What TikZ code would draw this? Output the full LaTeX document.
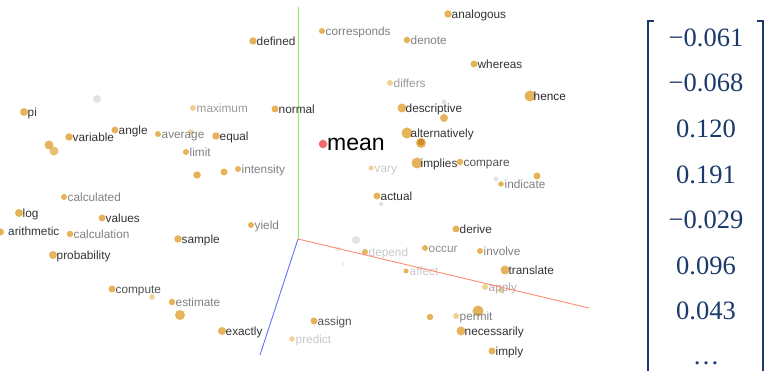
\documentclass[tikz,border=0pt]{standalone}
\usepackage{fontspec}
\setmainfont{Liberation Sans}
\newfontfamily\serifnum{Liberation Serif}
\definecolor{dotA}{HTML}{E6B35A}
\definecolor{dotL}{HTML}{EFD195}
\definecolor{dotD}{HTML}{D08C2A}
\definecolor{dotG}{HTML}{E3E3E3}
\definecolor{dotR}{HTML}{F26B6B}
\definecolor{tD}{HTML}{333333}
\definecolor{tM}{HTML}{808080}
\definecolor{tL}{HTML}{C8C8C8}
\definecolor{navy}{HTML}{1B3A6B}
\definecolor{axG}{HTML}{86F060}
\definecolor{axR}{HTML}{FF8C72}
\definecolor{axB}{HTML}{6870FF}
\tikzset{
  wdot/.style={circle,inner sep=0pt,draw=none},
  lbl/.style={anchor=base west,inner sep=0pt,font=\fontsize{11.8}{13}\selectfont},
  num/.style={text=navy,font=\serifnum\fontsize{26.5}{30}\selectfont,inner sep=0pt},
  axis/.style={line width=0.9pt}
}
\newcommand\wordpt[7]{%
  \node[wdot,minimum size=#4,fill=#5] (d#1) at (#2,#3) {};
  \node[lbl,text=#6] (t#1) at (#2+3.5,#3+4.5) {#7};}
\newcommand\plaindot[5]{%
  \node[wdot,minimum size=#4,fill=#5] (#1) at (#2,#3) {};}
\begin{document}
\begin{tikzpicture}[x=1pt,y=-1pt]
\useasboundingbox (0,0) rectangle (764,371);
% unlabeled dots
\plaindot{u1}{97}{99}{8}{dotG}
\plaindot{u2}{191}{132}{5.5}{dotL}
\plaindot{u3}{49}{145}{9}{dotA}
\node[wdot,minimum size=9,fill=dotA,fill opacity=0.85] (u4) at (54,151) {};
\plaindot{u5}{197}{175}{7.5}{dotA}
\plaindot{u6}{224}{172}{7}{dotA}
\plaindot{u7}{152}{297}{5.5}{dotL}
\plaindot{u8}{180}{315}{10}{dotA}
\plaindot{u9}{444}{102}{5}{dotG}
\plaindot{u10}{444}{118}{8}{dotA}
\node[wdot,minimum size=10,fill=dotA] (u11) at (421,143) {};
\node[wdot,minimum size=7,fill=dotD] (u11b) at (421,142) {};
\plaindot{u12}{496}{179}{5}{dotG}
\plaindot{u13}{537}{176}{7}{dotA}
\plaindot{u14}{381}{204}{4.5}{dotG}
\plaindot{u15}{356}{240}{8}{dotG}
\plaindot{u16}{338}{249}{5}{dotG!60}
\plaindot{u17}{343}{264}{4}{dotG!60}
\plaindot{u18}{501}{290}{6}{dotL}
\plaindot{u19}{478}{311}{11}{dotA}
\plaindot{u20}{430}{317}{6.5}{dotA}
\plaindot{u21}{0.5}{232}{7}{dotA}
% axes
\coordinate (O) at (298,239);
\coordinate (gY) at (298,7);
\coordinate (rX) at (589,308);
\coordinate (bZ) at (260,355);
\draw[axis,axG] (O) -- (gY);
\draw[axis,axB] (O) -- (bZ);
% labeled words
\wordpt{analogous}{448}{14}{7.5}{dotA}{tD}{analogous}
\wordpt{corresponds}{322}{31}{6}{dotA}{tM}{corresponds}
\wordpt{denote}{407}{40}{6.5}{dotA}{tM}{denote}
\wordpt{defined}{253}{41}{7.5}{dotA}{tD}{defined}
\wordpt{whereas}{474}{64}{7}{dotA}{tD}{whereas}
\wordpt{differs}{390}{83}{6}{dotL}{tM!80}{differs}
\wordpt{hence}{530}{96}{11}{dotA}{black!85}{hence}
\wordpt{descriptive}{402}{108}{9}{dotA}{tD}{descriptive}
\wordpt{alternatively}{407}{133}{11}{dotA}{tD}{alternatively}
\wordpt{implies}{417}{163}{11}{dotA}{tD}{implies}
\wordpt{compare}{460}{162}{6.5}{dotA}{tD!85}{compare}
\wordpt{vary}{371}{168}{5}{dotL}{tL}{vary}
\wordpt{indicate}{501}{184}{5.5}{dotA}{tM}{indicate}
\wordpt{actual}{377}{196}{7}{dotA}{tD}{actual}
\wordpt{derive}{456}{229}{7}{dotA}{tD}{derive}
\wordpt{depend}{365}{252}{6}{dotA}{tL}{depend}
\wordpt{occur}{425}{248}{6}{dotA}{tM!90}{occur}
\wordpt{involve}{480}{251}{6}{dotA}{tM}{involve}
\wordpt{affect}{406}{271}{5}{dotA}{tL}{affect}
\wordpt{translate}{505}{270}{9}{dotA}{tD}{translate}
\wordpt{apply}{485}{287}{6}{dotL}{tM!65}{apply}
\wordpt{permit}{456}{316}{6}{dotL}{tM}{permit}
\wordpt{necessarily}{461}{331}{9}{dotA}{tD}{necessarily}
\wordpt{imply}{492}{351}{7}{dotA}{tD}{imply}
\wordpt{assign}{314}{321}{7}{dotA}{tD!85}{assign}
\wordpt{predict}{292}{339}{5.5}{dotL}{tL}{predict}
\wordpt{pi}{24}{112}{8}{dotA}{tD}{pi}
\wordpt{maximum}{193}{108}{6}{dotL}{tM!80}{maximum}
\wordpt{normal}{275}{109}{7}{dotA}{tD}{normal}
\wordpt{variable}{69}{137}{7.5}{dotA}{tD}{variable}
\wordpt{angle}{115}{130}{7}{dotA}{tD}{angle}
\wordpt{average}{158}{134}{6}{dotA}{tM}{average}
\wordpt{equal}{216}{136}{7.5}{dotA}{tD}{equal}
\wordpt{limit}{186}{152}{6}{dotA}{tM}{limit}
\wordpt{intensity}{238}{169}{6}{dotA}{tM}{intensity}
\wordpt{calculated}{64}{197}{6}{dotA}{tM}{calculated}
\wordpt{log}{19}{213}{8}{dotA}{tD}{log}
\wordpt{values}{102}{218}{7}{dotA}{tD}{values}
\node[lbl,text=tD] (tarithmetic) at (8,236) {arithmetic};
\wordpt{calculation}{70}{234}{6.5}{dotA}{tM}{calculation}
\wordpt{sample}{178}{239}{7.5}{dotA}{tD}{sample}
\wordpt{yield}{251}{225}{6}{dotA}{tM}{yield}
\wordpt{probability}{53}{255}{8}{dotA}{tD}{probability}
\wordpt{compute}{112}{289}{7}{dotA}{tD!85}{compute}
\wordpt{estimate}{172}{302}{6.5}{dotA}{tM}{estimate}
\wordpt{exactly}{222}{331}{8}{dotA}{tD}{exactly}
% mean
\node[wdot,minimum size=8.5,fill=dotR] (dmean) at (323,144) {};
\node[anchor=base west,inner sep=0pt,font=\fontsize{23}{26}\selectfont,text=black] (tmean) at (327,151) {mean};
\draw[axis,axR] (O) -- (rX);
% vector
\node[num] (v1) at (706,38) {−0.061};
\node[num] (v2) at (706,83) {−0.068};
\node[num] (v3) at (706,129) {0.120};
\node[num] (v4) at (706,175) {0.191};
\node[num] (v5) at (706,220) {−0.029};
\node[num] (v6) at (706,266) {0.096};
\node[num] (v7) at (706,311) {0.043};
\node[num,anchor=base] (v8) at (706,365) {\dots};
\draw[navy,line width=1.8pt] (654,21) -- (648,21) -- (648,372);
\draw[navy,line width=1.8pt] (757,21) -- (763,21) -- (763,372);
\end{tikzpicture}
\end{document}
